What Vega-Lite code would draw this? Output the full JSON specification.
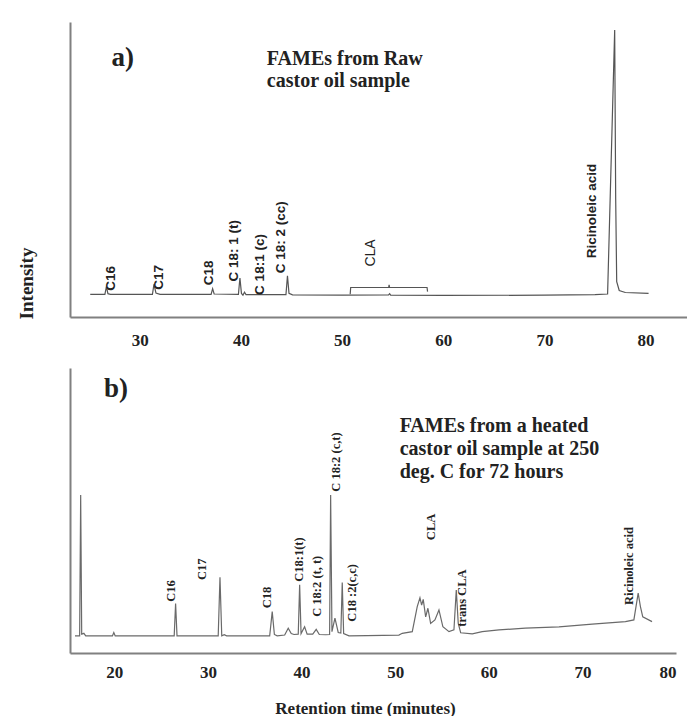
{
  "$schema": "https://vega.github.io/schema/vega-lite/v6.json",
  "background": "white",
  "padding": {"left": 17, "top": 22, "right": 0, "bottom": 0},
  "config": {"view": {"stroke": null}, "font": "Liberation Serif"},
  "bounds": "flush",
  "spacing": 51,
  "datasets": {
    "traceA": [
      {"s": "trace", "i": 1, "t": 25.1, "I": 7.7},
      {"s": "trace", "i": 2, "t": 26.55, "I": 7.7},
      {"s": "trace", "i": 3, "t": 26.7, "I": 10.3},
      {"s": "trace", "i": 4, "t": 26.85, "I": 7.9},
      {"s": "trace", "i": 5, "t": 27.1, "I": 7.7},
      {"s": "trace", "i": 6, "t": 31.25, "I": 7.7},
      {"s": "trace", "i": 7, "t": 31.4, "I": 11.1},
      {"s": "trace", "i": 8, "t": 31.6, "I": 8.1},
      {"s": "trace", "i": 9, "t": 32.0, "I": 7.7},
      {"s": "trace", "i": 10, "t": 37.05, "I": 7.7},
      {"s": "trace", "i": 11, "t": 37.2, "I": 9.6},
      {"s": "trace", "i": 12, "t": 37.35, "I": 7.8},
      {"s": "trace", "i": 13, "t": 39.75, "I": 7.7},
      {"s": "trace", "i": 14, "t": 39.9, "I": 13.2},
      {"s": "trace", "i": 15, "t": 40.05, "I": 8.0},
      {"s": "trace", "i": 16, "t": 40.2, "I": 7.4},
      {"s": "trace", "i": 17, "t": 40.35, "I": 8.4},
      {"s": "trace", "i": 18, "t": 40.5, "I": 7.6},
      {"s": "trace", "i": 19, "t": 44.45, "I": 7.6},
      {"s": "trace", "i": 20, "t": 44.6, "I": 14.0},
      {"s": "trace", "i": 21, "t": 44.75, "I": 8.0},
      {"s": "trace", "i": 22, "t": 45.1, "I": 7.5},
      {"s": "trace", "i": 23, "t": 50.0, "I": 7.4},
      {"s": "trace", "i": 24, "t": 54.6, "I": 7.5},
      {"s": "trace", "i": 25, "t": 54.7, "I": 7.9},
      {"s": "trace", "i": 26, "t": 54.8, "I": 7.4},
      {"s": "trace", "i": 27, "t": 60.0, "I": 7.3},
      {"s": "trace", "i": 28, "t": 70.0, "I": 7.4},
      {"s": "trace", "i": 29, "t": 75.0, "I": 7.6},
      {"s": "trace", "i": 30, "t": 76.25, "I": 7.8},
      {"s": "trace", "i": 31, "t": 76.95, "I": 97.3},
      {"s": "trace", "i": 32, "t": 77.05, "I": 40},
      {"s": "trace", "i": 33, "t": 77.15, "I": 12},
      {"s": "trace", "i": 34, "t": 77.4, "I": 9.0},
      {"s": "trace", "i": 35, "t": 78.0, "I": 8.3},
      {"s": "trace", "i": 36, "t": 80.3, "I": 8.0},
      {"s": "bracket", "i": 1, "t": 50.8, "I": 7.7},
      {"s": "bracket", "i": 2, "t": 50.85, "I": 10.0},
      {"s": "bracket", "i": 3, "t": 54.6, "I": 10.0},
      {"s": "bracket", "i": 4, "t": 54.65, "I": 10.9},
      {"s": "bracket", "i": 5, "t": 54.7, "I": 10.0},
      {"s": "bracket", "i": 6, "t": 58.4, "I": 10.0},
      {"s": "bracket", "i": 7, "t": 58.45, "I": 8.6}
    ],
    "labelsA": [
      {"t": 27.2, "I": 8.9, "label": "C16"},
      {"t": 31.9, "I": 9.2, "label": "C17"},
      {"t": 36.8, "I": 10.8, "label": "C18"},
      {"t": 39.3, "I": 12.0, "label": "C 18: 1 (t)"},
      {"t": 41.9, "I": 7.5, "label": "C 18:1 (c)"},
      {"t": 44.0, "I": 14.8, "label": "C 18: 2 (cc)"},
      {"t": 74.7, "I": 19.9, "label": "Ricinoleic acid"}
    ],
    "claA": [
      {"t": 52.9, "I": 17.1, "label": "CLA"}
    ],
    "tagA": [
      {"t": 27.2, "I": 85.1, "label": "a)"}
    ],
    "noteA": [
      {"t": 42.56, "I": 85.4, "label": "FAMEs from Raw\ncastor oil sample"}
    ],
    "traceB": [
      {"i": 1, "t": 15.8, "I": 6.0},
      {"i": 2, "t": 16.3, "I": 6.0},
      {"i": 3, "t": 16.41, "I": 55.4},
      {"i": 4, "t": 16.52, "I": 6.6},
      {"i": 5, "t": 16.75, "I": 6.9},
      {"i": 6, "t": 16.95, "I": 6.0},
      {"i": 7, "t": 19.8, "I": 6.0},
      {"i": 8, "t": 19.95, "I": 7.2},
      {"i": 9, "t": 20.1, "I": 6.0},
      {"i": 10, "t": 26.4, "I": 6.0},
      {"i": 11, "t": 26.55, "I": 17.4},
      {"i": 12, "t": 26.7, "I": 6.0},
      {"i": 13, "t": 31.1, "I": 6.0},
      {"i": 14, "t": 31.29, "I": 26.6},
      {"i": 15, "t": 31.48, "I": 6.0},
      {"i": 16, "t": 31.75, "I": 6.4},
      {"i": 17, "t": 32.0, "I": 6.0},
      {"i": 18, "t": 36.6, "I": 6.0},
      {"i": 19, "t": 36.87, "I": 14.5},
      {"i": 20, "t": 37.1, "I": 6.5},
      {"i": 21, "t": 37.4, "I": 6.0},
      {"i": 22, "t": 38.2, "I": 6.3},
      {"i": 23, "t": 38.58, "I": 8.7},
      {"i": 24, "t": 38.9, "I": 6.8},
      {"i": 25, "t": 39.2, "I": 6.5},
      {"i": 26, "t": 39.65, "I": 6.6},
      {"i": 27, "t": 39.8, "I": 23.9},
      {"i": 28, "t": 39.95, "I": 6.8},
      {"i": 29, "t": 40.33, "I": 9.2},
      {"i": 30, "t": 40.6, "I": 6.6},
      {"i": 31, "t": 41.2, "I": 6.6},
      {"i": 32, "t": 41.57, "I": 8.3},
      {"i": 33, "t": 41.9, "I": 6.5},
      {"i": 34, "t": 42.6, "I": 6.4},
      {"i": 35, "t": 43.0, "I": 6.5},
      {"i": 36, "t": 43.11, "I": 55.4},
      {"i": 37, "t": 43.25, "I": 7.5},
      {"i": 38, "t": 43.57, "I": 12.2},
      {"i": 39, "t": 43.92, "I": 7.2},
      {"i": 40, "t": 44.2, "I": 7.0},
      {"i": 41, "t": 44.35, "I": 24.7},
      {"i": 42, "t": 44.5, "I": 6.8},
      {"i": 43, "t": 45.07, "I": 6.0},
      {"i": 44, "t": 47.0, "I": 6.1},
      {"i": 45, "t": 50.4, "I": 6.3},
      {"i": 46, "t": 50.76, "I": 6.9},
      {"i": 47, "t": 51.83, "I": 7.5},
      {"i": 48, "t": 52.36, "I": 16.3},
      {"i": 49, "t": 52.65, "I": 19.4},
      {"i": 50, "t": 52.83, "I": 16.8},
      {"i": 51, "t": 53.0, "I": 18.8},
      {"i": 52, "t": 53.26, "I": 12.7},
      {"i": 53, "t": 53.5, "I": 15.7},
      {"i": 54, "t": 53.79, "I": 10.4},
      {"i": 55, "t": 54.25, "I": 11.6},
      {"i": 56, "t": 54.68, "I": 15.1},
      {"i": 57, "t": 55.1, "I": 9.2},
      {"i": 58, "t": 55.75, "I": 7.5},
      {"i": 59, "t": 56.28, "I": 8.1},
      {"i": 60, "t": 56.53, "I": 22.1},
      {"i": 61, "t": 56.74, "I": 10.4},
      {"i": 62, "t": 57.0, "I": 7.1},
      {"i": 63, "t": 58.24, "I": 6.7},
      {"i": 64, "t": 59.3, "I": 7.5},
      {"i": 65, "t": 61.09, "I": 8.1},
      {"i": 66, "t": 63.9, "I": 8.7},
      {"i": 67, "t": 67.5, "I": 9.2},
      {"i": 68, "t": 71.05, "I": 10.1},
      {"i": 69, "t": 74.6, "I": 11.0},
      {"i": 70, "t": 75.5, "I": 11.6},
      {"i": 71, "t": 75.96, "I": 21.0},
      {"i": 72, "t": 76.2, "I": 16.3},
      {"i": 73, "t": 76.45, "I": 12.7},
      {"i": 74, "t": 77.44, "I": 11.0}
    ],
    "labelsB": [
      {"t": 26.02, "I": 18.0, "label": "C16"},
      {"t": 29.4, "I": 25.6, "label": "C17"},
      {"t": 36.34, "I": 15.7, "label": "C18"},
      {"t": 39.73, "I": 25.0, "label": "C18:1(t)"},
      {"t": 41.68, "I": 12.7, "label": "C 18:2 (t, t)"},
      {"t": 43.65, "I": 56.6, "label": "C 18:2 (c,t)"},
      {"t": 45.42, "I": 11.0, "label": "C18 :2(c,c)"},
      {"t": 53.79, "I": 39.6, "label": "CLA"},
      {"t": 57.17, "I": 9.2, "label": "trans CLA"},
      {"t": 74.97, "I": 16.8, "label": "Ricinoleic acid"}
    ],
    "tagB": [
      {"t": 18.9, "I": 89.9, "label": "b)"}
    ],
    "noteB": [
      {"t": 50.48, "I": 77.6, "label": "FAMEs from a heated\ncastor oil sample at 250\ndeg. C for 72 hours"}
    ]
  },
  "vconcat": [
    {
      "width": 617,
      "height": 295,
      "layer": [
        {
          "data": {"name": "traceA"},
          "mark": {"type": "line", "color": "#555555", "strokeWidth": 1.2},
          "encoding": {
            "x": {"field": "t", "type": "quantitative", "scale": {"domain": [23.1, 84.1], "nice": false, "zero": false},
              "axis": {"title": null, "values": [30, 40, 50, 60, 70, 80], "ticks": false, "grid": false, "labelFont": "Liberation Serif", "labelFontSize": 17, "labelFontWeight": "bold", "labelColor": "#222222", "labelPadding": 15, "domainColor": "#808080", "domainWidth": 2}},
            "y": {"field": "I", "type": "quantitative", "scale": {"domain": [0, 100], "nice": false},
              "axis": {"title": "Intensity", "labels": false, "ticks": false, "grid": false, "domainColor": "#808080", "domainWidth": 2, "titleFont": "Liberation Serif", "titleFontSize": 19, "titleFontWeight": "bold", "titleColor": "#222222", "titleX": -44, "titleY": 261, "titleAngle": 270, "titleAlign": "center", "titleBaseline": "middle"}},
            "detail": {"field": "s"},
            "order": {"field": "i"}
          }
        },
        {
          "data": {"name": "labelsA"},
          "mark": {"type": "text", "angle": 270, "align": "left", "baseline": "middle", "font": "Liberation Sans", "fontSize": 13.5, "fontWeight": "bold", "color": "#222222"},
          "encoding": {
            "x": {"field": "t", "type": "quantitative", "scale": {"domain": [23.1, 84.1], "nice": false, "zero": false}},
            "y": {"field": "I", "type": "quantitative", "scale": {"domain": [0, 100], "nice": false}},
            "text": {"field": "label"}
          }
        },
        {
          "data": {"name": "claA"},
          "mark": {"type": "text", "angle": 270, "align": "left", "baseline": "middle", "font": "Liberation Sans", "fontSize": 14, "color": "#222222"},
          "encoding": {
            "x": {"field": "t", "type": "quantitative", "scale": {"domain": [23.1, 84.1], "nice": false, "zero": false}},
            "y": {"field": "I", "type": "quantitative", "scale": {"domain": [0, 100], "nice": false}},
            "text": {"field": "label"}
          }
        },
        {
          "data": {"name": "tagA"},
          "mark": {"type": "text", "align": "left", "baseline": "alphabetic", "font": "Liberation Serif", "fontSize": 27, "fontWeight": "bold", "color": "#222222"},
          "encoding": {
            "x": {"field": "t", "type": "quantitative", "scale": {"domain": [23.1, 84.1], "nice": false, "zero": false}},
            "y": {"field": "I", "type": "quantitative", "scale": {"domain": [0, 100], "nice": false}},
            "text": {"field": "label"}
          }
        },
        {
          "data": {"name": "noteA"},
          "mark": {"type": "text", "align": "left", "baseline": "alphabetic", "font": "Liberation Serif", "fontSize": 20, "fontWeight": "bold", "color": "#222222", "lineBreak": "\n", "lineHeight": 22},
          "encoding": {
            "x": {"field": "t", "type": "quantitative", "scale": {"domain": [23.1, 84.1], "nice": false, "zero": false}},
            "y": {"field": "I", "type": "quantitative", "scale": {"domain": [0, 100], "nice": false}},
            "text": {"field": "label"}
          }
        }
      ]
    },
    {
      "width": 606,
      "height": 285,
      "layer": [
        {
          "data": {"name": "traceB"},
          "mark": {"type": "line", "color": "#6a6a6a", "strokeWidth": 1.2},
          "encoding": {
            "x": {"field": "t", "type": "quantitative", "scale": {"domain": [15.27, 80], "nice": false, "zero": false},
              "axis": {"title": "Retention time (minutes)", "values": [20, 30, 40, 50, 60, 70, 80], "ticks": false, "grid": false, "labelFont": "Liberation Serif", "labelFontSize": 17, "labelFontWeight": "bold", "labelColor": "#222222", "labelPadding": 11, "domainColor": "#808080", "domainWidth": 2, "titleFont": "Liberation Serif", "titleFontSize": 17, "titleFontWeight": "bold", "titleColor": "#222222", "titleX": 295, "titleY": 60, "titleBaseline": "alphabetic", "titleAlign": "center"}},
            "y": {"field": "I", "type": "quantitative", "scale": {"domain": [0, 100], "nice": false},
              "axis": {"title": null, "labels": false, "ticks": false, "grid": false, "domainColor": "#808080", "domainWidth": 2}},
            "order": {"field": "i"}
          }
        },
        {
          "data": {"name": "labelsB"},
          "mark": {"type": "text", "angle": 270, "align": "left", "baseline": "middle", "font": "Liberation Serif", "fontSize": 12.5, "fontWeight": "bold", "color": "#222222"},
          "encoding": {
            "x": {"field": "t", "type": "quantitative", "scale": {"domain": [15.27, 80], "nice": false, "zero": false}},
            "y": {"field": "I", "type": "quantitative", "scale": {"domain": [0, 100], "nice": false}},
            "text": {"field": "label"}
          }
        },
        {
          "data": {"name": "tagB"},
          "mark": {"type": "text", "align": "left", "baseline": "alphabetic", "font": "Liberation Serif", "fontSize": 27, "fontWeight": "bold", "color": "#222222"},
          "encoding": {
            "x": {"field": "t", "type": "quantitative", "scale": {"domain": [15.27, 80], "nice": false, "zero": false}},
            "y": {"field": "I", "type": "quantitative", "scale": {"domain": [0, 100], "nice": false}},
            "text": {"field": "label"}
          }
        },
        {
          "data": {"name": "noteB"},
          "mark": {"type": "text", "align": "left", "baseline": "alphabetic", "font": "Liberation Serif", "fontSize": 20, "fontWeight": "bold", "color": "#222222", "lineBreak": "\n", "lineHeight": 23.3},
          "encoding": {
            "x": {"field": "t", "type": "quantitative", "scale": {"domain": [15.27, 80], "nice": false, "zero": false}},
            "y": {"field": "I", "type": "quantitative", "scale": {"domain": [0, 100], "nice": false}},
            "text": {"field": "label"}
          }
        }
      ]
    }
  ]
}
